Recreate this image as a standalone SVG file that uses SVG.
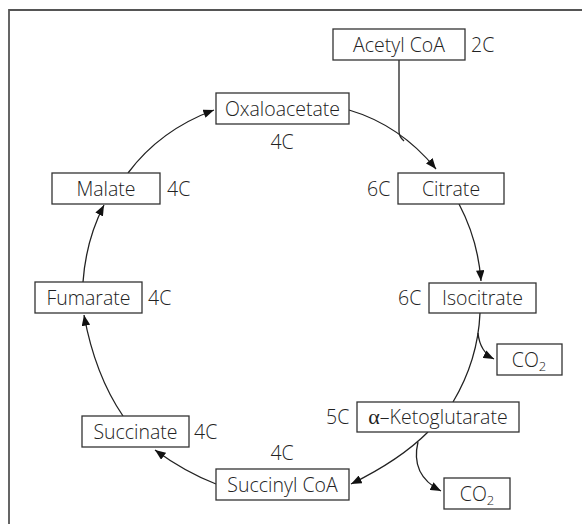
<svg xmlns="http://www.w3.org/2000/svg" width="582" height="524" viewBox="0 0 582 524">
<style>
.box{fill:#fff;stroke:#333;stroke-width:1.3}
.t{font-family:"Open Sans","Liberation Sans",sans-serif;font-weight:300;font-size:19.5px;fill:#222}
.c{text-anchor:middle}
.ln{fill:none;stroke:#222;stroke-width:1.3}
.frame{fill:none;stroke:#555;stroke-width:1.8}
</style>
<defs>
<marker id="ah" viewBox="0 0 10 8" refX="10" refY="4" markerWidth="11" markerHeight="8.5" markerUnits="userSpaceOnUse" orient="auto">
<path d="M0,0 L10,4 L0,8 Z" fill="#111"/>
</marker>
</defs>
<polyline class="frame" points="9,524 9,10 582,10"/>
<g id="connectors">
<path class="ln" d="M399,60 V131 Q399,137 404,141"/>
<path class="ln" d="M349,110 Q400,125 436,169" marker-end="url(#ah)"/>
<path class="ln" d="M459,204 Q478,240 481,281" marker-end="url(#ah)"/>
<path class="ln" d="M480,313 Q478,360 453,402"/>
<path class="ln" d="M478,333 Q480,352 494,359" marker-end="url(#ah)"/>
<path class="ln" d="M428,432 Q400,460 351,484" marker-end="url(#ah)"/>
<path class="ln" d="M418,442 Q410,475 441,491" marker-end="url(#ah)"/>
<path class="ln" d="M216,484 Q185,472 155,450" marker-end="url(#ah)"/>
<path class="ln" d="M123,416 Q95,375 84,315" marker-end="url(#ah)"/>
<path class="ln" d="M83,282 Q86,240 104,205" marker-end="url(#ah)"/>
<path class="ln" d="M128,173 Q160,130 214,110" marker-end="url(#ah)"/>
</g>
<g id="acetylcoa">
<rect class="box" x="333" y="29" width="132" height="31"/>
<text class="t c" x="399" y="51.5">Acetyl CoA</text>
<text class="t" x="471" y="51.5">2C</text>
</g>
<g id="oxaloacetate">
<rect class="box" x="216" y="93" width="133" height="31"/>
<text class="t c" x="282.5" y="115.5">Oxaloacetate</text>
<text class="t c" x="282" y="149">4C</text>
</g>
<g id="citrate">
<rect class="box" x="398" y="173" width="106" height="31"/>
<text class="t c" x="451" y="195.5">Citrate</text>
<text class="t" x="367" y="195.5">6C</text>
</g>
<g id="isocitrate">
<rect class="box" x="429" y="283" width="107" height="30"/>
<text class="t c" x="482.5" y="305">Isocitrate</text>
<text class="t" x="398" y="305">6C</text>
</g>
<g id="co2a">
<rect class="box" x="497" y="344" width="65" height="31"/>
<text class="t c" x="529" y="366.5">CO<tspan font-size="13" dy="4">2</tspan></text>
</g>
<g id="ketoglutarate">
<rect class="box" x="357" y="402" width="162" height="30"/>
<text class="t c" x="438" y="424"><tspan font-family="'Liberation Serif',serif" font-weight="400" font-size="22">α</tspan>–Ketoglutarate</text>
<text class="t" x="326" y="424">5C</text>
</g>
<g id="co2b">
<rect class="box" x="444" y="478" width="66" height="31"/>
<text class="t c" x="477" y="500.5">CO<tspan font-size="13" dy="4">2</tspan></text>
</g>
<g id="succinylcoa">
<rect class="box" x="216" y="469" width="133" height="31"/>
<text class="t c" x="282.5" y="491.5">Succinyl CoA</text>
<text class="t c" x="282" y="460">4C</text>
</g>
<g id="succinate">
<rect class="box" x="82" y="416" width="107" height="31"/>
<text class="t c" x="135.5" y="438.5">Succinate</text>
<text class="t" x="194" y="438.5">4C</text>
</g>
<g id="fumarate">
<rect class="box" x="35" y="282" width="107" height="31"/>
<text class="t c" x="88.5" y="304.5">Fumarate</text>
<text class="t" x="148" y="304.5">4C</text>
</g>
<g id="malate">
<rect class="box" x="52" y="173" width="108" height="31"/>
<text class="t c" x="106" y="195.5">Malate</text>
<text class="t" x="167" y="195.5">4C</text>
</g>
</svg>
